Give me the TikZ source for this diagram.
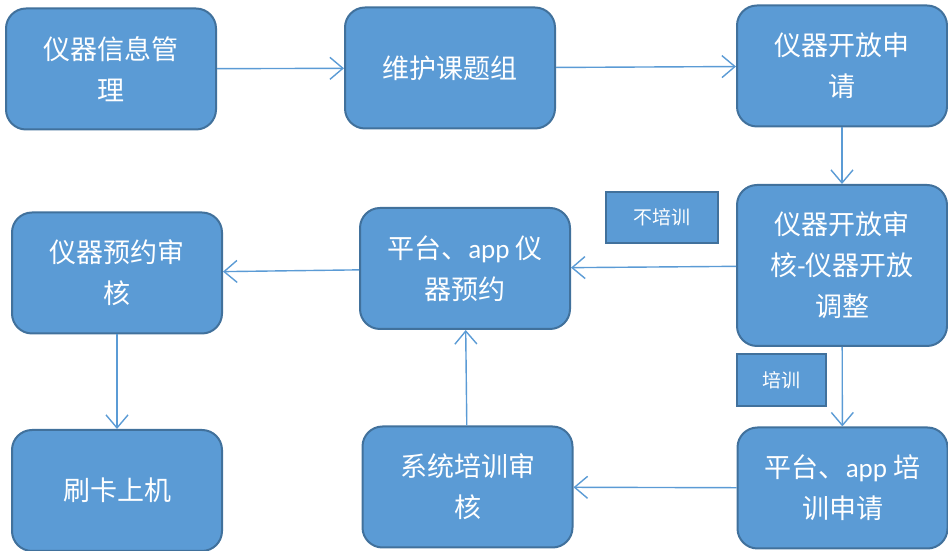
\documentclass[tikz,border=0pt]{standalone}
\usepackage{fontspec}
\setmainfont{Carlito}
\newfontfamily\cjk{Noto Sans CJK SC}
\usetikzlibrary{arrows.meta}
\definecolor{boxfill}{HTML}{5B9BD5}
\definecolor{boxline}{HTML}{41719C}
\definecolor{arrowcol}{HTML}{5B9BD5}
\tikzset{
  flowbox/.style={draw=boxline, line width=2pt, fill=boxfill, rounded corners=20pt,
    text=white, align=center, font=\fontsize{27}{41}\selectfont,
    minimum width=210pt, minimum height=121pt, inner sep=0pt},
  tagbox/.style={draw=boxline, line width=2pt, fill=boxfill,
    text=white, align=center, font=\cjk\fontsize{19}{20}\selectfont, inner sep=0pt},
  flowarrow/.style={draw=arrowcol, line width=1.4pt,
    -{Straight Barb[length=13pt,width=22pt,line width=1.4pt]}}
}
\begin{document}
\begin{tikzpicture}[x=1pt,y=1pt]
\useasboundingbox (0,0) rectangle (948,551);
\node[flowbox] (b1) at (111,482) {\cjk 仪器信息管\\\cjk 理};
\node[flowbox] (b2) at (450,483) {\cjk 维护课题组};
\node[flowbox] (b3) at (842,485) {\cjk 仪器开放申\\\cjk 请};
\node[flowbox, minimum height=161pt] (b4) at (842,285.5) {\cjk 仪器开放审\\{\cjk 核}-{\cjk 仪器开放}\\\cjk 调整};
\node[flowbox] (b5) at (465,282.5) {{\cjk 平台、}app {\cjk 仪}\\\cjk 器预约};
\node[flowbox] (b6) at (117,278) {\cjk 仪器预约审\\\cjk 核};
\node[flowbox] (b7) at (117,60.5) {\cjk 刷卡上机};
\node[flowbox] (b8) at (467.5,64) {\cjk 系统培训审\\\cjk 核};
\node[flowbox] (b9) at (842.5,63) {{\cjk 平台、}app {\cjk 培}\\\cjk 训申请};
\node[tagbox, minimum width=112pt, minimum height=51pt] (t1) at (662,333.5) {不培训};
\node[tagbox, minimum width=89pt, minimum height=52pt] (t2) at (781.5,171) {培训};
\draw[flowarrow] (b1) -- (b2);
\draw[flowarrow] (b2) -- (b3);
\draw[flowarrow] (b3) -- (b4);
\draw[flowarrow] (b4) -- (b5);
\draw[flowarrow] (b5) -- (b6);
\draw[flowarrow] (b6) -- (b7);
\draw[flowarrow] (b4) -- (b9);
\draw[flowarrow] (b9) -- (b8);
\draw[flowarrow] (b8) -- (b5);
\end{tikzpicture}
\end{document}
